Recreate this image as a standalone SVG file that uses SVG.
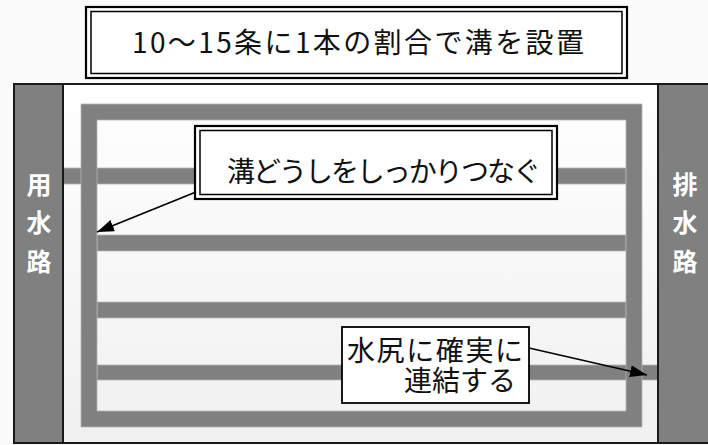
<svg xmlns="http://www.w3.org/2000/svg" width="708" height="445" viewBox="0 0 708 445">
  <defs>
    <linearGradient id="bg" x1="0" y1="0" x2="0" y2="1">
      <stop offset="0" stop-color="#ffffff"/>
      <stop offset="1" stop-color="#f0f0f0"/>
    </linearGradient>
    <marker id="arrow" viewBox="0 0 10 10" refX="10" refY="5" markerWidth="17" markerHeight="12" markerUnits="userSpaceOnUse" orient="auto" preserveAspectRatio="none">
      <path d="M0,0 L10,5 L0,10 z" fill="#000"/>
    </marker>
  </defs>
  <style>
    .ditch { fill: #808080; stroke: #b4b4b4; stroke-width: 0.8; }
    .canal { fill: #808080; stroke: #1a1a1a; stroke-width: 2; }
    .canal-label { font-family: "Noto Sans CJK JP", "Noto Sans", sans-serif; font-size: 25px; font-weight: bold; fill: #ffffff; text-anchor: middle; }
    .box { fill: #ffffff; stroke: #000; }
    .label { font-family: "Noto Sans CJK JP", "Noto Sans", sans-serif; fill: #111; }
    .conn { stroke: #000; stroke-width: 1.7; fill: none; marker-end: url(#arrow); }
  </style>

  <rect x="0" y="0" width="708" height="445" fill="#fbfbfb"/>

  <g id="field">
    <rect x="14" y="84" width="700" height="359" fill="url(#bg)" stroke="#1a1a1a" stroke-width="2"/>
  </g>

  <g id="ditches">
    <rect class="ditch" x="63" y="168" width="563" height="16"/>
    <rect class="ditch" x="97" y="235" width="529" height="16"/>
    <rect class="ditch" x="97" y="302" width="529" height="16"/>
    <rect class="ditch" x="97" y="365" width="561" height="15"/>
    <path class="ditch" fill-rule="evenodd" d="M81,104 H642 V427 H81 Z M97,120 V411 H626 V120 Z"/>
  </g>

  <g id="canal-left">
    <rect class="canal" x="14" y="84" width="49" height="359"/>
    <text class="canal-label" x="39" y="194">用</text>
    <text class="canal-label" x="39" y="232">水</text>
    <text class="canal-label" x="39" y="271">路</text>
  </g>

  <g id="canal-right">
    <rect class="canal" x="658" y="84" width="52" height="359"/>
    <text class="canal-label" x="685" y="194">排</text>
    <text class="canal-label" x="685" y="232">水</text>
    <text class="canal-label" x="685" y="271">路</text>
  </g>

  <g id="title">
    <rect class="box" x="86" y="7" width="541" height="71" stroke-width="2.2"/>
    <rect x="91" y="11.5" width="531" height="62" fill="none" stroke="#000" stroke-width="1.5"/>
    <text class="label" x="358" y="53" font-size="28" text-anchor="middle" textLength="452" lengthAdjust="spacing">10〜15条に1本の割合で溝を設置</text>
  </g>

  <g id="callout-connect">
    <rect class="box" x="195" y="126" width="362" height="73" stroke-width="2.2"/>
    <rect x="200" y="130.5" width="352" height="64" fill="none" stroke="#000" stroke-width="1.5"/>
    <text class="label" x="384" y="182" font-size="28" text-anchor="middle" textLength="314" lengthAdjust="spacing">溝どうしをしっかりつなぐ</text>
  </g>

  <g id="callout-outlet">
    <rect class="box" x="342" y="327" width="187" height="76" stroke-width="1.8"/>
    <text class="label" x="347" y="361" font-size="28" textLength="176" lengthAdjust="spacing">水尻に確実に</text>
    <text class="label" x="516" y="391" font-size="28" text-anchor="end">連結する</text>
  </g>

  <g id="connectors">
    <line class="conn" x1="196" y1="192" x2="97" y2="232"/>
    <line class="conn" x1="529" y1="348" x2="647" y2="375"/>
  </g>
</svg>
